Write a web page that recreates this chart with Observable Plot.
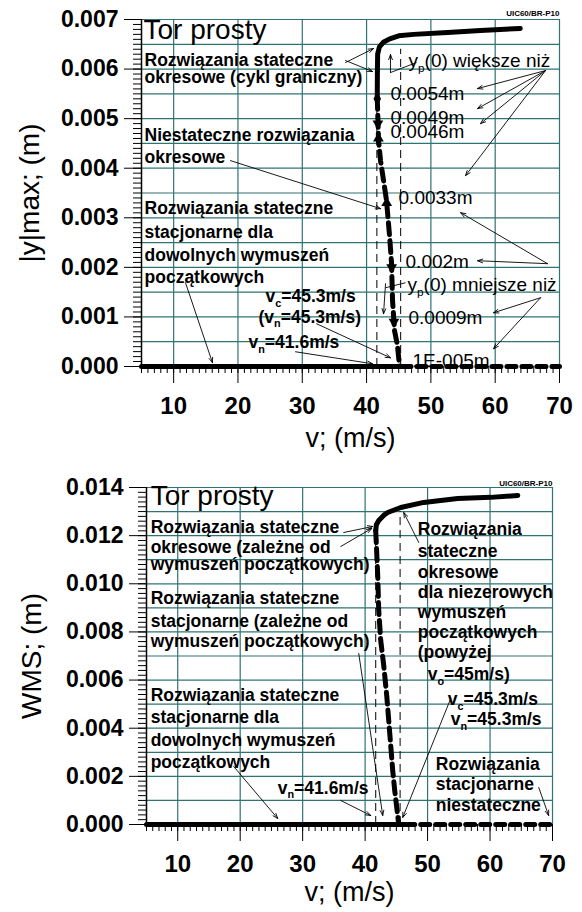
<!DOCTYPE html>
<html><head><meta charset="utf-8">
<script src="https://cdn.jsdelivr.net/npm/d3@7"></script>
<script src="https://cdn.jsdelivr.net/npm/@observablehq/plot@0.6"></script>
<style>
body{margin:0;background:#fff;width:582px;}
#c svg{display:block;}
</style></head><body><div id="c"></div>
<script>
// ---------- shared axis data ----------
const xTicks = [10, 20, 30, 40, 50, 60, 70];
const xGrid = [10, 20, 30, 40, 50, 60, 70];
const xMinor = d3.range(5, 70.5, 1);

// ---------- top chart (|y|max) ----------
const topYTicks = [0, 0.001, 0.002, 0.003, 0.004, 0.005, 0.006, 0.007];
const topYGrid = [0.0005, 0.001, 0.0015, 0.002, 0.0025, 0.003, 0.0035, 0.004, 0.0045, 0.005, 0.0055, 0.006, 0.0065, 0.007];
const topYMinor = d3.range(0, 0.00705, 0.0001);

const topStablePerV = [41.66, 41.68, 41.72, 42.0, 42.6, 43.6, 45.0, 47.3, 52.6, 57.7, 63.9];
const topStablePerY = [0.00543, 0.00590, 0.00630, 0.00645, 0.00654, 0.00661, 0.00667, 0.00670, 0.00674, 0.00678, 0.00682];
const topUnstPerV = [41.66, 41.86, 42.17, 42.64, 43.10, 43.57, 43.88, 44.04, 44.35, 44.81, 45.12];
const topUnstPerY = [0.00543, 0.00456, 0.00415, 0.00375, 0.00335, 0.00264, 0.00209, 0.00133, 0.00072, 0.00042, 0];
const topZeroStableV = [5, 45.5];
const topZeroUnstV = [45.5, 70];
const topVLinesV = [41.6, 45.3];
const topVLinesTop = [0.0054, 0.0064];
const topMarkV = [41.66, 41.76, 41.84, 43.13, 43.9, 44.26];
const topMarkY = [0.0054, 0.0049, 0.0046, 0.0033, 0.0020, 0.0009];
const topMarkKind = ["diamond", "down", "up", "up", "down", "down"];

const topTitle = [{t: "Tor prosty", v: 5.31, y: 0.00679}];
const topBlock = [
  {t: "Rozwiązania stateczne", v: 5.47, y: 0.00618},
  {t: "okresowe (cykl graniczny)", v: 5.47, y: 0.00584},
  {t: "Niestateczne rozwiązania", v: 5.47, y: 0.00467},
  {t: "okresowe", v: 5.47, y: 0.00421},
  {t: "Rozwiązania stateczne", v: 5.47, y: 0.00318},
  {t: "stacjonarne dla", v: 5.47, y: 0.00271},
  {t: "dowolnych wymuszeń", v: 5.47, y: 0.00225},
  {t: "początkowych", v: 5.47, y: 0.00180},
  {t: "v_c=45.3m/s", v: 24.28, y: 0.00142},
  {t: "(v_n=45.3m/s)", v: 23.20, y: 0.00100},
  {t: "v_n=41.6m/s", v: 21.64, y: 0.00049}
];
const topValues = [
  {t: "y_p(0) większe niż", v: 46.52, y: 0.00617},
  {t: "0.0054m", v: 43.72, y: 0.00549},
  {t: "0.0049m", v: 43.72, y: 0.00502},
  {t: "0.0046m", v: 43.72, y: 0.00474},
  {t: "0.0033m", v: 44.97, y: 0.00341},
  {t: "0.002m", v: 46.06, y: 0.00212},
  {t: "y_p(0) mniejsze niż", v: 46.37, y: 0.00165},
  {t: "0.0009m", v: 46.52, y: 0.00099},
  {t: "1E-005m", v: 47.15, y: 0.00012}
];
const topArrows = [
  {v1: 36.73, y1: 0.006132, v2: 41.08, y2: 0.006414},
  {v1: 36.73, y1: 0.006172, v2: 40.93, y2: 0.005950},
  {v1: 18.84, y1: 0.004153, v2: 42.17, y2: 0.003184},
  {v1: 11.84, y1: 0.001690, v2: 16.04, y2: 0.000075},
  {v1: 28.95, y1: 0.000297, v2: 40.93, y2: 0.000055},
  {v1: 32.22, y1: 0.000862, v2: 43.72, y2: 0.000176},
  {v1: 43.72, y1: 0.005930, v2: 43.72, y2: 0.006293},
  {v1: 42.95, y1: 0.001670, v2: 42.64, y2: 0.001064},
  {v1: 67.83, y1: 0.005970, v2: 57.26, y2: 0.005607},
  {v1: 67.83, y1: 0.005970, v2: 57.26, y2: 0.005203},
  {v1: 67.83, y1: 0.005970, v2: 57.72, y2: 0.004900},
  {v1: 67.83, y1: 0.005970, v2: 55.39, y2: 0.003850},
  {v1: 68.14, y1: 0.002074, v2: 57.26, y2: 0.002134},
  {v1: 68.14, y1: 0.002074, v2: 54.62, y2: 0.003103},
  {v1: 67.05, y1: 0.001387, v2: 59.74, y2: 0.001084},
  {v1: 67.05, y1: 0.001387, v2: 59.74, y2: 0.000357}
];
const topLeaders = [
  {v1: 43.72, y1: 0.005930, v2: 47.77, y2: 0.006132},
  {v1: 42.95, y1: 0.001589, v2: 46.06, y2: 0.001690}
];

// ---------- bottom chart (WMS) ----------
const botYTicks = [0, 0.002, 0.004, 0.006, 0.008, 0.010, 0.012, 0.014];
const botYGrid = [0.001, 0.002, 0.003, 0.004, 0.005, 0.006, 0.007, 0.008, 0.009, 0.010, 0.011, 0.012, 0.013, 0.014];
const botYMinor = d3.range(0, 0.01405, 0.0002);

const botStablePerV = [41.70, 41.80, 42.18, 43.0, 43.62, 45.70, 49.38, 54.83, 60.1, 64.44];
const botStablePerY = [0.01221, 0.01245, 0.01263, 0.01285, 0.01296, 0.01317, 0.01338, 0.01354, 0.01359, 0.01367];
const botUnstPerV = [41.70, 42.02, 42.18, 42.50, 42.98, 43.46, 43.78, 44.10, 44.42, 44.74, 45.22, 45.38];
const botUnstPerY = [0.01221, 0.01034, 0.00889, 0.00764, 0.00661, 0.00536, 0.00432, 0.00328, 0.00224, 0.00141, 0.00037, 0];
const botZeroStableV = [5, 46.5];
const botZeroUnstV = [46.5, 70];
const botVLinesV = [41.7, 45.6];
const botVLinesTop = [0.0122, 0.0130];

const botTitle = [{t: "Tor prosty", v: 5.67, y: 0.01363}];
const botBlock = [
  {t: "Rozwiązania stateczne", v: 5.67, y: 0.01236},
  {t: "okresowe (zależne od", v: 5.67, y: 0.01153},
  {t: "wymuszeń początkowych)", v: 5.67, y: 0.01079},
  {t: "Rozwiązania stateczne", v: 5.67, y: 0.00941},
  {t: "stacjonarne (zależne od", v: 5.67, y: 0.00842},
  {t: "wymuszeń początkowych)", v: 5.67, y: 0.00759},
  {t: "Rozwiązania stateczne", v: 5.67, y: 0.00538},
  {t: "stacjonarne dla", v: 5.67, y: 0.00443},
  {t: "dowolnych wymuszeń", v: 5.67, y: 0.00351},
  {t: "początkowych", v: 5.67, y: 0.00260},
  {t: "v_n=41.6m/s", v: 26.01, y: 0.00152},
  {t: "Rozwiązania", v: 48.43, y: 0.01224},
  {t: "stateczne", v: 48.43, y: 0.01133},
  {t: "okresowe", v: 48.43, y: 0.01049},
  {t: "dla niezerowych", v: 48.43, y: 0.00966},
  {t: "wymuszeń", v: 48.43, y: 0.00883},
  {t: "początkowych", v: 48.43, y: 0.00800},
  {t: "(powyżej", v: 48.43, y: 0.00717},
  {t: "v_o=45m/s)", v: 50.03, y: 0.00622},
  {t: "v_c=45.3m/s", v: 53.23, y: 0.00518},
  {t: "v_n=45.3m/s", v: 53.71, y: 0.00435},
  {t: "Rozwiązania", v: 51.31, y: 0.00248},
  {t: "stacjonarne", v: 51.31, y: 0.00165},
  {t: "niestateczne", v: 51.31, y: 0.00081}
];
const botArrows = [
  {v1: 36.58, y1: 0.012131, v2: 41.22, y2: 0.012381},
  {v1: 36.10, y1: 0.011550, v2: 41.06, y2: 0.012298},
  {v1: 38.98, y1: 0.007104, v2: 42.82, y2: 0.000374},
  {v1: 18.96, y1: 0.002410, v2: 26.01, y2: 0.000249},
  {v1: 36.10, y1: 0.000997, v2: 40.90, y2: 0.000374},
  {v1: 53.71, y1: 0.005235, v2: 46.02, y2: 0.000291},
  {v1: 48.59, y1: 0.011716, v2: 46.18, y2: 0.012962},
  {v1: 67.80, y1: 0.001537, v2: 69.38, y2: 0.000374}
];

const stamp = "UIC60/BR-P10";

// ---------- drawing ----------
const FONT = "'Liberation Sans', Arial, sans-serif";
const GRID = "#2f7373";
const pts = (xs, ys) => xs.map((x, i) => ({v: x, y: ys[i]}));

function chart(c) {
  const marks = [
    Plot.ruleY(c.yGrid, {stroke: GRID, strokeWidth: 1.2}),
    Plot.ruleX(xGrid, {stroke: GRID, strokeWidth: 1.2}),
    Plot.ruleX([5], {y1: 0, y2: c.yMax, stroke: "black", strokeWidth: 1.5}),
    Plot.axisY({ticks: c.yMinor, tickSize: 8, tickFormat: () => "", label: null}),
    Plot.axisY({ticks: c.yTicks, tickSize: 17, tickPadding: 6, tickFormat: d3.format(".3f"), fontSize: 23, fontWeight: "bold", label: null}),
    Plot.axisX({ticks: xMinor, tickSize: 7, tickFormat: () => "", label: null}),
    Plot.axisX({ticks: xTicks, tickSize: 17, tickPadding: 13, fontSize: 24, fontWeight: "bold", label: null}),
    // thin dashed vertical guides
    Plot.ruleX(c.vLinesV.map((v, i) => ({v, top: c.vLinesTop[i]})), {x: "v", y1: 0, y2: "top", stroke: "black", strokeWidth: 1, strokeDasharray: "8,5"}),
    // zero branches
    Plot.line(c.zeroStableV.map(v => ({v, y: 0})), {x: "v", y: "y", stroke: "black", strokeWidth: 5}),
    Plot.line(c.zeroUnstV.map(v => ({v, y: 0})), {x: "v", y: "y", stroke: "black", strokeWidth: 5, strokeDasharray: "9,6"}),
    // periodic branches
    Plot.line(pts(c.unstV, c.unstY), {x: "v", y: "y", stroke: "black", strokeWidth: 5, strokeDasharray: "12,6"}),
    Plot.line(pts(c.stabV, c.stabY), {x: "v", y: "y", stroke: "black", strokeWidth: 5, strokeLinejoin: "round", strokeLinecap: "round"}),
  ];
  if (c.markV) {
    marks.push(Plot.dot(c.markV.map((v, i) => ({v, y: c.markY[i], k: c.markKind[i]})), {
      x: "v", y: "y", r: 4, fill: "black", stroke: "none",
      symbol: d => d.k === "diamond" ? "diamond" : "triangle",
      rotate: d => d.k === "down" ? 180 : 0
    }));
  }
  marks.push(
    Plot.arrow(c.arrows, {x1: "v1", y1: "y1", x2: "v2", y2: "y2", stroke: "black", strokeWidth: 0.9, headLength: 9, headAngle: 40}),
    Plot.link(c.leaders || [], {x1: "v1", y1: "y1", x2: "v2", y2: "y2", stroke: "black", strokeWidth: 0.9}),
    Plot.text(c.title, {x: "v", y: "y", text: "t", textAnchor: "start", lineAnchor: "middle", fontSize: 28, fill: "black"}),
    Plot.text(c.block, {x: "v", y: "y", text: "t", textAnchor: "start", lineAnchor: "middle", fontSize: 17.5, fontWeight: "bold", fill: "black"}),
    Plot.text(c.values || [], {x: "v", y: "y", text: "t", textAnchor: "start", lineAnchor: "middle", fontSize: 19, fill: "black"}),
    Plot.text([stamp], {x: 70, y: c.stampY, text: d => d, textAnchor: "end", fontSize: 8, fontWeight: "bold", fill: "black"}),
    Plot.text([c.yLabel], {frameAnchor: "left", dx: c.yLabelDx, rotate: -90, text: d => d, textAnchor: "middle", lineAnchor: "middle", fontSize: 28, fill: "black"}),
    Plot.text(["v; (m/s)"], {frameAnchor: "bottom", dy: c.xLabelDy, text: d => d, textAnchor: "middle", lineAnchor: "middle", fontSize: 27, fill: "black"})
  );
  const svg = Plot.plot({
    width: 582, height: c.height,
    marginTop: c.mt, marginBottom: c.mb, marginLeft: c.ml, marginRight: c.mr,
    x: {domain: [5, 70]},
    y: {domain: [0, c.yMax]},
    style: {fontFamily: FONT, background: "white", color: "black", overflow: "visible"},
    marks
  });
  return svg;
}

function subscripts(svg) {
  svg.querySelectorAll("text").forEach(t => {
    const s = t.textContent;
    if (!s.includes("_")) return;
    const fs = parseFloat(getComputedStyle(t).fontSize) || 17.5;
    const parts = s.split(/_(.)/);
    while (t.firstChild) t.removeChild(t.firstChild);
    parts.forEach((p, i) => {
      if (!p) return;
      const ts = document.createElementNS("http://www.w3.org/2000/svg", "tspan");
      ts.textContent = p;
      if (i % 2 === 1) { ts.setAttribute("font-size", (fs * 0.62) + "px"); ts.setAttribute("dy", (fs * 0.28) + "px"); }
      else if (i > 0) { ts.setAttribute("dy", (-fs * 0.28) + "px"); }
      t.appendChild(ts);
    });
  });
}

const root = document.getElementById("c");
const top1 = chart({
  height: 450, mt: 19, mb: 84, ml: 141, mr: 23, yMax: 0.007,
  yTicks: topYTicks, yGrid: topYGrid, yMinor: topYMinor,
  stabV: topStablePerV, stabY: topStablePerY, unstV: topUnstPerV, unstY: topUnstPerY,
  zeroStableV: topZeroStableV, zeroUnstV: topZeroUnstV,
  vLinesV: topVLinesV, vLinesTop: topVLinesTop,
  markV: topMarkV, markY: topMarkY, markKind: topMarkKind,
  title: topTitle, block: topBlock, values: topValues,
  arrows: topArrows, leaders: topLeaders,
  stampY: 0.00712, yLabel: "|y|max; (m)", yLabelDx: -111, xLabelDy: 72
});
root.appendChild(top1);
subscripts(top1);
const bot = chart({
  height: 462, mt: 37, mb: 88, ml: 146, mr: 30, yMax: 0.014,
  yTicks: botYTicks, yGrid: botYGrid, yMinor: botYMinor,
  stabV: botStablePerV, stabY: botStablePerY, unstV: botUnstPerV, unstY: botUnstPerY,
  zeroStableV: botZeroStableV, zeroUnstV: botZeroUnstV,
  vLinesV: botVLinesV, vLinesTop: botVLinesTop,
  title: botTitle, block: botBlock,
  arrows: botArrows,
  stampY: 0.01418, yLabel: "WMS; (m)", yLabelDx: -114, xLabelDy: 68
});
root.appendChild(bot);
subscripts(bot);
</script></body></html>
